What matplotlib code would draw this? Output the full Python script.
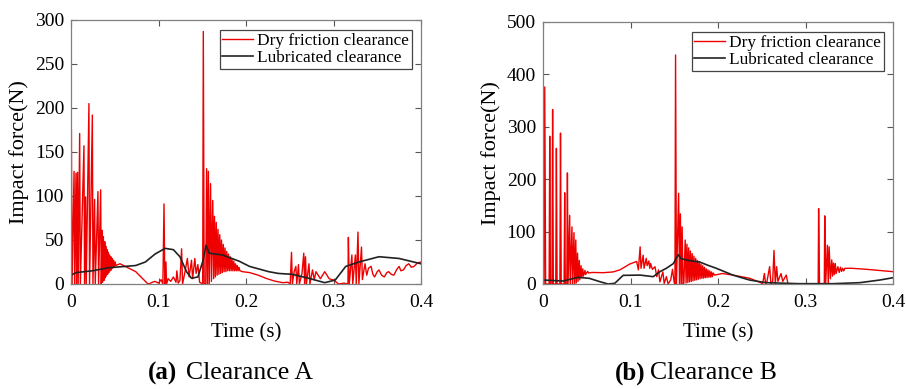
import numpy as np
import matplotlib as mpl
import matplotlib.pyplot as plt

mpl.rcParams['font.family'] = ['Liberation Serif', 'DejaVu Serif']
mpl.rcParams['xtick.direction'] = 'in'
mpl.rcParams['ytick.direction'] = 'in'

# ---- data: time (s) / impact force (N) ----
# clearance A, dry friction
redA_t = [0.0000, 0.0004, 0.0012, 0.0035, 0.0042, 0.0057, 0.0064, 0.0075, 0.0082,
          0.0099, 0.0107, 0.0148, 0.0155, 0.0167, 0.0174, 0.0205, 0.0212, 0.0244, 0.0251,
          0.0270, 0.0277, 0.0308, 0.0315, 0.0339, 0.0346,
          0.0355, 0.0360, 0.0370, 0.0376, 0.0386, 0.0391, 0.0397, 0.0403, 0.0413, 0.0418,
          0.0427, 0.0432, 0.0440, 0.0446, 0.0455, 0.0461, 0.0470, 0.0476, 0.0488, 0.0494,
          0.0505, 0.0512,
          0.056, 0.062, 0.068, 0.074, 0.079, 0.083, 0.087, 0.089, 0.093, 0.096, 0.100,
          0.103, 0.1050, 0.1063, 0.1072, 0.1085, 0.1092, 0.111, 0.114, 0.117, 0.120,
          0.1210, 0.1225, 0.1245, 0.1264, 0.1275, 0.1305, 0.1330, 0.1350, 0.1377, 0.1390,
          0.1415, 0.1430, 0.1450, 0.1470, 0.1505, 0.1512, 0.1522,
          0.1540, 0.1550, 0.1560, 0.1570, 0.1580, 0.1595, 0.1605, 0.1620, 0.1630, 0.1640,
          0.1650, 0.1660, 0.1670, 0.1680, 0.1690, 0.1700, 0.1710, 0.1720, 0.1730, 0.1740,
          0.1750, 0.1760, 0.1770, 0.1780, 0.1790, 0.1800, 0.1810, 0.1820, 0.1830, 0.1840,
          0.1850, 0.1860, 0.1870, 0.1880, 0.1890, 0.1900, 0.1910, 0.1920, 0.1930,
          0.1960, 0.204, 0.214, 0.223, 0.232, 0.242, 0.248,
          0.2505, 0.2520, 0.2530, 0.2550, 0.2570, 0.2580, 0.2600, 0.2610, 0.2640, 0.2660,
          0.2670, 0.2680, 0.2690, 0.2720, 0.2730, 0.2760, 0.2780, 0.2800, 0.2850, 0.2900,
          0.2950, 0.3000, 0.3060, 0.3120,
          0.3165, 0.3170, 0.3180, 0.3210, 0.3220, 0.3250, 0.3260, 0.3280, 0.3290, 0.3320,
          0.3330, 0.3360, 0.3380, 0.3400, 0.3430, 0.3450, 0.3470, 0.3500, 0.3520, 0.3550,
          0.3580, 0.3610, 0.3630, 0.3660, 0.3690, 0.3720, 0.3750, 0.3770, 0.3800, 0.3830,
          0.3860, 0.3890, 0.3920, 0.3960, 0.4000]
redA_f = [0, 176, 0, 128, 0, 126, 0, 127, 0,
          171, 0, 157, 0, 99, 0, 205, 0, 192, 0,
          96, 0, 105, 0, 107, 0,
          61, 2, 54, 4, 48, 7, 43, 9, 39, 11,
          36, 13, 33, 15, 31, 16, 29, 18, 27, 19,
          25, 21,
          23, 20, 17, 14, 9, 5, 1, 0, 2, 3, 1,
          5, 0, 91, 0, 25, 0, 6, 3, 8, 2,
          15, 1, 4, 40, 0, 15, 29, 8, 27, 6,
          29, 12, 22, 2, 0, 287, 0,
          0, 131, 0, 128, 0, 114, 3, 95, 6, 77,
          8, 70, 10, 62, 11, 56, 12, 50, 13, 45,
          14, 41, 14, 37, 15, 34, 15, 31, 15, 28,
          15, 26, 15, 23, 15, 21, 15, 19, 15,
          14, 13, 10, 6.4, 3.5, 1.5, 2,
          0, 36, 0, 14, 20, 0, 22, 0, 12, 35,
          0, 31, 0, 23, 0, 16, 5, 14, 6, 14,
          6, 4.5, 0, 1,
          0, 53, 0, 33, 0, 33, 0, 59, 0, 42,
          5, 23, 10, 18, 20, 11, 8, 14, 16, 10,
          8, 13, 14, 11, 10, 16, 20, 15, 16, 21,
          23, 19, 20, 24, 25]

# clearance A, lubricated
blackA_t = [0, 0.006, 0.0245, 0.043, 0.062, 0.074, 0.085, 0.096, 0.1075, 0.117, 0.1245,
            0.132, 0.1377, 0.145, 0.151, 0.1543, 0.158, 0.173, 0.192, 0.204, 0.226, 0.237,
            0.253, 0.272, 0.29, 0.302, 0.314, 0.329, 0.352, 0.375, 0.4]
blackA_f = [10, 13, 15, 18.5, 20, 21, 25, 34, 40.5, 39, 31,
            14, 6.5, 8, 27, 44, 35, 33, 26, 20, 14, 12,
            11, 6.4, 1.5, 4.5, 20, 25, 31, 29, 23]

# clearance B, dry friction
redB_t = [0.0000, 0.0012, 0.0020, 0.0030, 0.0070, 0.0077, 0.0085, 0.0103, 0.0110, 0.0118,
          0.0146, 0.0153, 0.0161, 0.0193, 0.0200, 0.0208, 0.0241, 0.0248, 0.0255, 0.0272,
          0.0279, 0.0286, 0.0305, 0.0311, 0.0331, 0.0337, 0.0354, 0.0360, 0.0375, 0.0380,
          0.0395, 0.0400, 0.0415, 0.0420, 0.0435, 0.0440, 0.0455, 0.0460, 0.0480, 0.0485,
          0.0510, 0.0520,
          0.0560, 0.0690, 0.0800, 0.0880, 0.0990, 0.1070, 0.1090, 0.1110, 0.1120, 0.1145,
          0.1155, 0.1180, 0.1190, 0.1210, 0.1220, 0.1230, 0.1250, 0.1280, 0.1300, 0.1320,
          0.1336, 0.1370, 0.1385, 0.1410, 0.1430, 0.1460, 0.1480, 0.1500, 0.1508,
          0.1515, 0.1525, 0.1550, 0.1560, 0.1570, 0.1580, 0.1590, 0.1600, 0.1610,
          0.1625, 0.1635, 0.1645, 0.1655, 0.1665, 0.1675, 0.1685, 0.1695, 0.1705, 0.1715,
          0.1725, 0.1735, 0.1745, 0.1755, 0.1765, 0.1775, 0.1785, 0.1795, 0.1805, 0.1815,
          0.1825, 0.1835, 0.1845, 0.1855, 0.1865, 0.1875, 0.1885, 0.1895, 0.1905, 0.1915,
          0.1925, 0.1935, 0.1945, 0.1960,
          0.2050, 0.2170, 0.2360, 0.2490, 0.2510, 0.2530, 0.2545, 0.2560, 0.2590, 0.2605,
          0.2625, 0.2640, 0.2655, 0.2670, 0.2685, 0.2720, 0.2740, 0.2780, 0.2800,
          0.3120, 0.3145, 0.3150, 0.3160, 0.3200, 0.3215, 0.3220, 0.3230, 0.3250, 0.3260,
          0.3270, 0.3285, 0.3300, 0.3310, 0.3320, 0.3330, 0.3340, 0.3350, 0.3370, 0.3385,
          0.3400, 0.3412, 0.3425, 0.3437, 0.3450, 0.3530, 0.3700, 0.4000]
redB_f = [0, 0, 376, 0, 0, 282, 0, 0, 333, 0,
          0, 259, 0, 0, 288, 0, 0, 174, 0, 0,
          212, 0, 131, 0, 109, 0, 98, 0, 84, 2,
          59, 5, 45, 8, 35, 12, 29, 15, 26, 18,
          24, 21,
          22, 21.6, 23, 27, 38, 43, 27, 71, 30, 55,
          30, 49, 35, 44, 30, 39, 28, 33, 14, 27,
          4, 23, 1, 14, 0, 8, 28, 2, 0,
          437, 0, 173, 0, 134, 0, 109, 0, 2,
          84, 2, 76, 3, 69, 4, 63, 5, 58, 6,
          53, 7, 49, 8, 45, 9, 42, 10, 38, 11,
          35, 11, 32, 12, 29, 12, 27, 13, 25, 13,
          23, 14, 21, 17,
          20, 17, 11, 2.5, 0, 20, 0, 5, 33, 0,
          5, 64, 0, 33, 5, 20, 5, 17, 0,
          0, 0, 144, 0, 0, 0, 130, 0, 74, 0,
          71, 10, 46, 15, 40, 18, 39, 20, 33, 22,
          32, 24, 30, 25, 30, 30, 28, 23.5]

# clearance B, lubricated
blackB_t = [0, 0.023, 0.040, 0.053, 0.065, 0.0744, 0.082, 0.088, 0.0916, 0.111, 0.126,
            0.1336, 0.141, 0.149, 0.1545, 0.158, 0.170, 0.179, 0.188, 0.198, 0.217, 0.236,
            0.255, 0.293, 0.331, 0.362, 0.385, 0.400]
blackB_f = [7.6, 5.7, 12.7, 10.8, 4.4, 0, 1.3, 10.8, 16.5, 17, 14,
            23.5, 30, 39, 56, 48, 44, 42, 36, 30, 17, 7.6,
            2.5, 0.6, 0.6, 2.5, 7.6, 12]

assert len(redA_t) == len(redA_f) and len(redB_t) == len(redB_f)

xticks = [0, 0.1, 0.2, 0.3, 0.4]
xticklabels = ['0', '0.1', '0.2', '0.3', '0.4']
labels = ['Dry friction clearance', 'Lubricated clearance']

W, H = 906, 389
fig = plt.figure(figsize=(W / 100, H / 100), dpi=100)
axA = fig.add_axes([71 / W, 105 / H, 350 / W, 264 / H])
axB = fig.add_axes([543 / W, 105 / H, 350 / W, 262 / H])

panels = [(axA, redA_t, redA_f, blackA_t, blackA_f, 300, np.arange(0, 301, 50)),
          (axB, redB_t, redB_f, blackB_t, blackB_f, 500, np.arange(0, 501, 100))]

for ax, rt, rf, bt, bf, ymax, yt in panels:
    ax.plot(rt, rf, color='#ee0000', lw=1.0, label=labels[0])
    ax.plot(bt, bf, color='#222222', lw=1.2, label=labels[1])
    ax.set_xlim(0, 0.4)
    ax.set_ylim(0, ymax)
    ax.set_xticks(xticks)
    ax.set_xticklabels(xticklabels)
    ax.set_yticks(yt)
    ax.tick_params(labelsize=14, top=True, right=True, length=4, width=0.8,
                   color='#555555')
    ax.tick_params(axis='x', pad=7)
    ax.tick_params(axis='y', pad=5)
    for s in ax.spines.values():
        s.set_color('#808080')
        s.set_linewidth(0.9)
    ax.set_xlabel('Time (s)', fontsize=15, labelpad=9)
    ax.set_ylabel('Impact force(N)', fontsize=16, labelpad=4)
    leg = ax.legend(loc='upper right', bbox_to_anchor=(0.974, 0.962), borderaxespad=0,
                    fontsize=12.4, handlelength=1.8, handletextpad=0.25,
                    borderpad=0.15, labelspacing=0.1, fancybox=False, framealpha=1)
    leg.get_frame().set_edgecolor('#444444')
    leg.get_frame().set_linewidth(0.9)

fig.text(148 / W, 1 - 373 / H, '(a)', fontsize=18, fontweight='bold', va='center')
fig.text(186 / W, 1 - 373 / H, 'Clearance A', fontsize=18.5, va='center')
fig.text(615 / W, 1 - 373 / H, '(b)', fontsize=18, fontweight='bold', va='center')
fig.text(650 / W, 1 - 373 / H, 'Clearance B', fontsize=18.5, va='center')

fig.savefig('out.png', dpi=100)
